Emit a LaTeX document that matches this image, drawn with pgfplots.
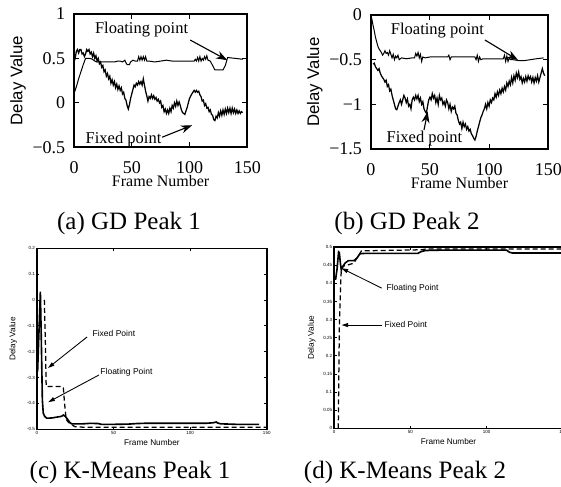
\documentclass[border=0pt]{standalone}
\usepackage{fontspec}
\setmainfont{Liberation Serif}
\setsansfont{Liberation Sans}
\usepackage{pgfplots}
\pgfplotsset{compat=1.18}
\usetikzlibrary{arrows.meta}

% 1 px of the reference = 0.4pt
\pgfplotsset{
  /pgf/number format/assume math mode=true,
  gdplot/.style={
    scale only axis, clip=false,
    axis line style={line width=0.8pt},
    tick align=inside, major tick length=2pt,
    tick style={line width=0.4pt, black},
    xmin=0, xmax=150, xtick={0,50,100,150},
    ticklabel style={font=\rmfamily\fontsize{7.2}{8}\selectfont},
    xticklabel style={yshift=-2.3pt},
    xlabel={Frame Number}, ylabel={Delay Value},
    every axis x label/.style={at={(rel axis cs:0.5,0)}, yshift=-13.5pt,
      anchor=center, font=\rmfamily\fontsize{6.4}{7}\selectfont},
    every axis y label/.style={at={(rel axis cs:0,0.5)}, xshift=-22.4pt,
      rotate=90, anchor=center, font=\sffamily\fontsize{6.7}{7}\selectfont},
    cycle list={{black, line width=0.5pt, mark=none}},
  },
  kmplot/.style={
    scale only axis, clip=false,
    axis line style={line width=0.6pt},
    tick align=inside, major tick length=1pt,
    tick style={line width=0.3pt, black},
    xmin=0, xmax=150, xtick={0,50,100,150},
    ticklabel style={font=\sffamily\fontsize{1.8}{2}\selectfont, inner sep=0.6pt},
    xlabel={Frame Number}, ylabel={Delay Value},
    every axis x label/.style={at={(rel axis cs:0.5,0)}, yshift=-5.2pt,
      anchor=center, font=\sffamily\fontsize{3.3}{4}\selectfont},
    cycle list={{black, mark=none}},
  },
  fixedline/.style={black, mark=none, line width=0.5pt, dash pattern=on 2pt off 1.2pt},
  floatline/.style={black, mark=none, line width=0.65pt},
}
\tikzset{
  gdarrow/.style={-{Stealth[length=4.5pt,width=3.2pt]}, line width=0.45pt},
  kmarrow/.style={-{Triangle[length=2.6pt,width=1.6pt]}, line width=0.35pt},
  gdtext/.style={font=\rmfamily\fontsize{6.6}{7}\selectfont, inner sep=0pt},
  kmtext/.style={font=\sffamily\fontsize{3.4}{4}\selectfont, inner sep=0pt, anchor=west},
}

\begin{document}
\begin{tikzpicture}

% (a) GD Peak 1
\begin{axis}[gdplot, at={(29.6pt,-58.9pt)}, anchor=south west,
  width=69.3pt, height=53.3pt,
  ymin=-0.5, ymax=1, ytick={-0.5,0,0.5,1}, yticklabels={−0.5,0,0.5,1}]
\addplot coordinates {
(0,0.1) (2,0.18) (4,0.27) (6,0.35) (8,0.43) (10,0.5) (12,0.5) (14,0.5)
(16,0.49) (18,0.47) (20,0.46) (25,0.46) (30,0.46) (35,0.46) (38,0.47)
(40,0.47) (42,0.46) (44,0.48) (45,0.45) (46,0.43) (48,0.43) (49,0.46)
(51,0.48) (53,0.47) (55,0.47) (56,0.52) (57,0.48) (58,0.52) (59,0.48)
(60,0.52) (61,0.48) (62,0.52) (63,0.47) (65,0.47) (70,0.46) (75,0.47)
(80,0.48) (85,0.47) (90,0.47) (95,0.47) (100,0.47) (104,0.47) (105,0.49)
(106,0.47) (107,0.51) (108,0.47) (109,0.52) (110,0.47) (111,0.5)
(112,0.48) (113,0.52) (114,0.49) (115,0.53) (116,0.48) (118,0.47)
(120,0.42) (122,0.37) (129,0.37) (131,0.42) (133,0.51) (140,0.5) (146,0.49)
};
\addplot coordinates {
(0,0.46) (1,0.5) (2,0.58) (3,0.6) (4,0.56) (5,0.6) (6,0.6) (7,0.55)
(8,0.56) (9,0.52) (10,0.55) (11,0.6) (12,0.58) (13,0.6) (14,0.55)
(15,0.57) (16,0.52) (17,0.56) (18,0.5) (19,0.53) (20,0.47) (21,0.5)
(22,0.44) (23,0.46) (24,0.4) (25,0.42) (26,0.35) (27,0.37) (28,0.3)
(29,0.33) (30,0.27) (31,0.3) (32,0.22) (33,0.26) (34,0.2) (35,0.24)
(36,0.17) (37,0.21) (38,0.15) (39,0.19) (40,0.14) (41,0.17) (42,0.1)
(43,0.12) (44,0.05) (45,0.03) (46,-0.03) (47,-0.07) (48,-0.02) (49,0.05)
(50,0.1) (51,0.15) (52,0.2) (53,0.18) (54,0.22) (55,0.2) (56,0.24)
(57,0.21) (58,0.24) (59,0.2) (60,0.27) (61,0.2) (62,0.13) (63,0.08)
(64,0.02) (65,0.07) (66,0.05) (67,0.09) (68,0.05) (69,0.08) (70,0.04)
(71,0.06) (72,0.02) (73,0.04) (74,0.0) (75,0.02) (76,-0.05) (77,-0.03)
(78,-0.1) (79,-0.07) (80,-0.12) (81,-0.08) (82,-0.12) (83,-0.06)
(84,-0.1) (85,-0.03) (86,-0.06) (87,0.0) (88,-0.04) (89,0.02) (90,-0.03)
(91,0.01) (92,-0.03) (93,-0.08) (94,-0.11) (96,-0.13) (98,-0.05)
(100,0.05) (102,0.1) (103,0.12) (104,0.14) (105,0.12) (106,0.14)
(107,0.12) (108,0.13) (109,0.09) (110,0.07) (111,0.02) (112,0.03)
(113,-0.03) (114,-0.01) (115,-0.06) (116,-0.05) (117,-0.1) (118,-0.08)
(119,-0.13) (120,-0.14) (121,-0.19) (122,-0.2) (123,-0.15) (124,-0.17)
(125,-0.11) (126,-0.15) (127,-0.09) (128,-0.14) (129,-0.08) (130,-0.13)
(131,-0.07) (132,-0.12) (133,-0.06) (134,-0.11) (135,-0.06) (136,-0.12)
(137,-0.06) (138,-0.11) (139,-0.07) (140,-0.12) (141,-0.08) (142,-0.12)
(143,-0.09) (144,-0.12) (145,-0.1) (146,-0.11)
};
\node[gdtext] at (axis cs:58.5,0.82) {Floating point};
\draw[gdarrow] (axis cs:100.6,0.707) -- (axis cs:132.7,0.48);
\node[gdtext] at (axis cs:42.9,-0.41) {Fixed point};
\draw[gdarrow] (axis cs:76.3,-0.387) -- (axis cs:102.3,-0.252);
\end{axis}

% (b) GD Peak 2
\begin{axis}[gdplot, at={(148.3pt,-59.6pt)}, anchor=south west,
  width=71pt, height=53.6pt,
  ymin=-1.5, ymax=0, ytick={-1.5,-1,-0.5,0}, yticklabels={−1.5,−1,−0.5,0}]
\addplot coordinates {
(0,0) (1,-0.05) (2,-0.12) (3,-0.18) (4,-0.25) (5,-0.3) (6,-0.35) (7,-0.38)
(8,-0.4) (9,-0.42) (10,-0.45) (11,-0.43) (12,-0.4) (13,-0.43) (14,-0.42)
(15,-0.45) (16,-0.4) (17,-0.44) (18,-0.48) (19,-0.44) (20,-0.5) (21,-0.46)
(22,-0.48) (23,-0.45) (24,-0.5) (26,-0.48) (30,-0.49) (35,-0.48) (37,-0.48)
(38,-0.43) (39,-0.46) (40,-0.42) (41,-0.48) (42,-0.44) (43,-0.52)
(44,-0.47) (46,-0.48) (50,-0.47) (55,-0.47) (60,-0.47) (65,-0.47)
(66,-0.45) (67,-0.5) (68,-0.47) (75,-0.47) (80,-0.47) (85,-0.47)
(88,-0.47) (89,-0.5) (90,-0.45) (91,-0.52) (92,-0.47) (93,-0.5)
(95,-0.49) (100,-0.49) (105,-0.49) (110,-0.49) (112,-0.49) (113,-0.45)
(114,-0.52) (115,-0.46) (116,-0.52) (117,-0.48) (118,-0.5) (120,-0.5)
(125,-0.51) (130,-0.51) (135,-0.5) (140,-0.49) (146,-0.48)
};
\addplot coordinates {
(2,-0.55) (3,-0.54) (4,-0.58) (5,-0.6) (6,-0.62) (7,-0.6) (8,-0.65)
(9,-0.68) (10,-0.7) (11,-0.72) (12,-0.75) (13,-0.73) (14,-0.8) (15,-0.78)
(16,-0.85) (17,-0.83) (18,-0.9) (19,-0.95) (20,-1.0) (21,-1.05) (22,-1.06)
(23,-1.02) (24,-0.98) (25,-0.95) (26,-1.0) (27,-0.95) (28,-0.9) (29,-0.93)
(30,-0.98) (31,-0.94) (32,-1.02) (33,-1.0) (34,-1.05) (35,-0.95)
(36,-0.92) (37,-0.95) (38,-0.9) (39,-0.94) (40,-0.9) (41,-0.97)
(42,-0.93) (43,-1.0) (44,-0.97) (45,-1.05) (46,-1.08) (47,-1.1)
(48,-1.02) (49,-0.95) (50,-0.92) (51,-0.95) (52,-0.88) (53,-0.93)
(54,-0.9) (55,-0.98) (56,-0.93) (57,-1.0) (58,-0.9) (59,-0.95) (60,-0.93)
(61,-1.0) (62,-0.97) (63,-1.02) (64,-0.95) (65,-0.98) (66,-1.05)
(67,-1.0) (68,-1.08) (69,-1.03) (70,-1.05) (71,-1.02) (72,-1.1)
(73,-1.12) (74,-1.18) (75,-1.22) (76,-1.2) (77,-1.27) (78,-1.2)
(79,-1.25) (80,-1.22) (81,-1.28) (82,-1.25) (83,-1.3) (84,-1.28)
(85,-1.33) (86,-1.35) (87,-1.38) (88,-1.4) (89,-1.36) (90,-1.3)
(91,-1.25) (92,-1.2) (93,-1.15) (94,-1.12) (95,-1.08) (96,-1.05)
(97,-1.0) (98,-1.05) (99,-0.98) (100,-1.02) (101,-0.95) (102,-0.98)
(103,-0.93) (104,-0.95) (105,-0.88) (106,-0.92) (107,-0.86) (108,-0.9)
(109,-0.84) (110,-0.88) (111,-0.82) (112,-0.86) (113,-0.8) (114,-0.84)
(115,-0.76) (116,-0.8) (117,-0.74) (118,-0.78) (119,-0.7) (120,-0.76)
(121,-0.68) (122,-0.73) (123,-0.65) (124,-0.7) (125,-0.64) (126,-0.72)
(127,-0.69) (128,-0.76) (129,-0.71) (130,-0.75) (131,-0.69) (132,-0.74)
(133,-0.68) (134,-0.72) (135,-0.69) (136,-0.75) (137,-0.7) (138,-0.76)
(139,-0.7) (140,-0.74) (141,-0.68) (142,-0.75) (143,-0.7) (144,-0.65)
(145,-0.6) (146,-0.65) (147,-0.68)
};
\node[gdtext] at (axis cs:56.4,-0.179) {Floating point};
\draw[gdarrow] (axis cs:96.5,-0.28) -- (axis cs:124.4,-0.504);
\node[gdtext] at (axis cs:45.4,-1.388) {Fixed point};
\draw[gdarrow] (axis cs:45,-1.287) -- (axis cs:48.1,-1.082);
\end{axis}

% (c) K-Means Peak 1
\begin{axis}[kmplot, at={(14.8pt,-171.7pt)}, anchor=south west,
  width=91.9pt, height=72.4pt,
  every axis y label/.style={at={(rel axis cs:0,0.5)}, xshift=-9.5pt,
    rotate=90, anchor=center, font=\sffamily\fontsize{3.3}{4}\selectfont},
  ymin=-0.5, ymax=0.2, ytick={-0.5,-0.4,-0.3,-0.2,-0.1,0,0.1,0.2},
  yticklabels={-0.5,-0.4,-0.3,-0.2,-0.1,0,0.1,0.2}]
\addplot[floatline] coordinates {
(0.4,-0.277) (1.3,-0.12) (2.2,0.032) (2.8,-0.15) (3.5,-0.387) (4.1,-0.438)
(5,-0.45) (6.3,-0.457) (8,-0.457) (10,-0.456) (12,-0.454) (14,-0.452)
(16,-0.45) (17.2,-0.445) (18.5,-0.45) (20,-0.462) (21.5,-0.474)
(22.6,-0.479) (30,-0.479) (35,-0.477) (40,-0.478) (42,-0.481) (50,-0.481)
(60,-0.48) (65,-0.478) (70,-0.477) (80,-0.477) (90,-0.477) (100,-0.477)
(110,-0.477) (115,-0.475) (117,-0.472) (118,-0.476) (120,-0.479)
(130,-0.481) (145,-0.481)
};
\addplot[fixedline] coordinates {
(4.8,0.0) (5.2,-0.1) (5.6,-0.2) (6.0,-0.335) (10,-0.335) (16,-0.335)
(17.2,-0.34) (18,-0.4) (19,-0.46) (20,-0.47) (22,-0.48) (24.8,-0.49)
(30,-0.492) (150,-0.492)
};
\node[kmtext] at (axis cs:36,-0.128) {Fixed Point};
\draw[kmarrow] (axis cs:32.7,-0.143) -- (axis cs:7.2,-0.263);
\node[kmtext] at (axis cs:41.1,-0.278) {Floating Point};
\draw[kmarrow] (axis cs:40.5,-0.29) -- (axis cs:7.4,-0.395);
\end{axis}

% (d) K-Means Peak 2 (its right part runs off the page, as in the reference)
\begin{axis}[kmplot, at={(133.6pt,-171.3pt)}, anchor=south west,
  width=91.6pt, height=72.4pt,
  every axis y label/.style={at={(rel axis cs:0,0.5)}, xshift=-8.9pt,
    rotate=90, anchor=center, font=\sffamily\fontsize{3.3}{4}\selectfont},
  ymin=0, ymax=0.5,
  ytick={0,0.05,0.1,0.15,0.2,0.25,0.3,0.35,0.4,0.45,0.5},
  yticklabels={0,0.05,0.1,0.15,0.2,0.25,0.3,0.35,0.4,0.45,0.5}]
\addplot[floatline] coordinates {
(1,0.41) (2,0.44) (3,0.487) (3.5,0.485) (4.2,0.455) (4.8,0.437) (6,0.448)
(7.2,0.456) (9.4,0.463) (13,0.463) (15,0.47) (17,0.482) (20,0.483)
(30,0.483) (40,0.483) (50,0.483) (55,0.483) (57,0.488) (60,0.491)
(70,0.492) (100,0.492) (113,0.492) (115,0.486) (117,0.484) (130,0.484)
(145,0.484) (150,0.484)
};
\addplot[fixedline] coordinates {
(2.8,0) (3.5,0.285) (4.5,0.42) (5.2,0.447) (9,0.451) (13,0.456) (15,0.47)
(18,0.49) (57,0.493) (60,0.495) (150,0.495)
};
\node[kmtext] at (axis cs:34.1,0.3876) {Floating Point};
\draw[kmarrow] (axis cs:31.2,0.387) -- (axis cs:5.0,0.442);
\node[kmtext] at (axis cs:32.8,0.2854) {Fixed Point};
\draw[kmarrow] (axis cs:31.2,0.285) -- (axis cs:5.0,0.285);
\end{axis}

% sub-captions
\node[anchor=base, font=\rmfamily\fontsize{10}{12}\selectfont] at (51.6pt,-92pt) {(a) GD Peak 1};
\node[anchor=base, font=\rmfamily\fontsize{10}{12}\selectfont] at (162.8pt,-92pt) {(b) GD Peak 2};
\node[anchor=base, font=\rmfamily\fontsize{10}{12}\selectfont] at (52pt,-191.2pt) {(c) K-Means Peak 1};
\node[anchor=base, font=\rmfamily\fontsize{10}{12}\selectfont] at (162pt,-191.2pt) {(d) K-Means Peak 2};

\pgfresetboundingbox
\path[use as bounding box] (0pt,0pt) rectangle (224.4pt,-194.8pt);
\end{tikzpicture}
\end{document}
